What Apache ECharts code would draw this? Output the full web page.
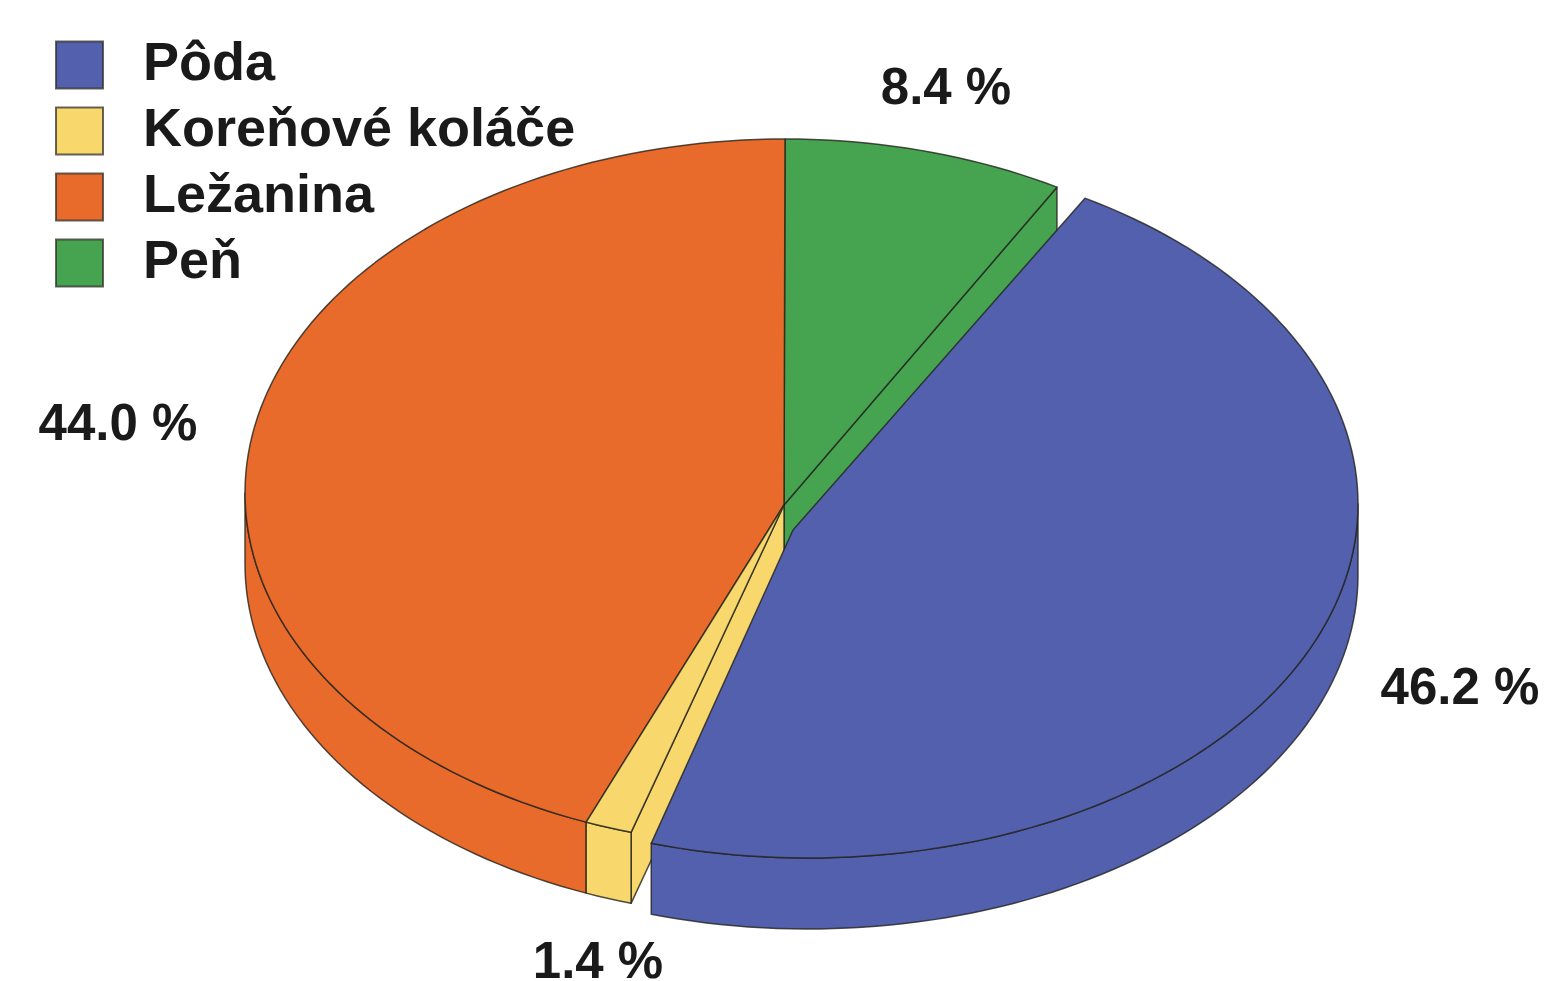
<!doctype html>
<html lang="sk">
<head>
    <meta charset="UTF-8">
    <title>Pôda, koreňové koláče, ležanina, peň</title>
    <style>
        html, body { margin: 0; padding: 0; background: #fff; }
        #main { width: 1544px; height: 981px; }
    </style>
</head>
<body>
<div id="main"></div>
<script src="https://cdn.jsdelivr.net/npm/echarts@6/dist/echarts.min.js"></script>
<script>
    // data, legend order
    const categories = ['Pôda', 'Koreňové koláče', 'Ležanina', 'Peň'];
    const shares = [46.2, 1.4, 44.0, 8.4];
    const colors = ['#5360ad', '#f8d86c', '#e96b2b', '#46a350'];

    // tilted disc geometry
    const disc = {cx: 785, cy: 493, rx: 540, ry: 354, apexX: 784, apexY: 505};
    // Pôda is pulled out and looks a little bigger, it sits nearer the viewer
    const pulled = {0: {cx: 808, cy: 504, rx: 550, ry: 354, apexX: 793, apexY: 530}};
    const depth = 71;
    const startDeg = 0;
    const labelPos = [[1460, 690], [598, 964], [118, 426], [946, 90]];
    const edge = 'rgba(35,35,30,0.8)';

    // Peň sits first clockwise from the top, the others follow in legend order
    const starts = [];
    let acc = shares[shares.length - 1];
    shares.forEach(function (v) {
        starts.push(acc % 100);
        acc += v;
    });

    function pt(g, deg, drop) {
        const a = deg * Math.PI / 180;
        return [g.cx + g.rx * Math.sin(a), g.cy - g.ry * Math.cos(a) + drop];
    }

    function arc(g, from, to, drop) {
        const pts = [];
        const n = Math.max(2, Math.ceil(Math.abs(to - from) / 1.5));
        for (let i = 0; i <= n; i++) {
            pts.push(pt(g, from + (to - from) * i / n, drop));
        }
        return pts;
    }

    function poly(points, fill) {
        return {
            type: 'polygon',
            shape: {points: points},
            style: {fill: fill, stroke: edge, lineWidth: 1.5, lineJoin: 'round'},
            silent: true
        };
    }

    function radialWall(g, deg, fill) {
        const p = pt(g, deg, 0);
        return poly([[g.apexX, g.apexY], p, [p[0], p[1] + depth], [g.apexX, g.apexY + depth]], fill);
    }

    function sliceItem(idx) {
        return function (params, api) {
            const value = api.value(0);
            const from = startDeg + api.value(1) * 3.6;
            const to = from + value * 3.6;
            const g = pulled[idx] || disc;
            const n = categories.length;
            const kids = [];

            // radial wall only where the pulled out neighbour uncovers it
            if (pulled[(idx + 1) % n]) {
                kids.push(radialWall(g, to, colors[idx]));
            }
            if (pulled[(idx + n - 1) % n]) {
                kids.push(radialWall(g, from, colors[idx]));
            }

            // outer wall, front half of the ellipse only
            const a0 = Math.max(from, 90), a1 = Math.min(to, 270);
            if (a1 > a0) {
                kids.push(poly(arc(g, a0, a1, 0).concat(arc(g, a1, a0, depth)), colors[idx]));
            }

            // top face
            kids.push(poly([[g.apexX, g.apexY]].concat(arc(g, from, to, 0)), colors[idx]));

            kids.push({
                type: 'text',
                silent: true,
                style: {
                    x: labelPos[idx][0],
                    y: labelPos[idx][1],
                    text: value.toFixed(1) + ' %',
                    fill: '#1a1a1a',
                    font: 'bold 51px "Liberation Sans", Arial, sans-serif',
                    align: 'center',
                    verticalAlign: 'middle'
                }
            });
            return {type: 'group', children: kids};
        };
    }

    // paint back to front: Peň, Ležanina, Koreňové koláče, Pôda
    const drawOrder = [3, 2, 1, 0];
    const series = drawOrder.map(function (i) {
        return {
            name: categories[i],
            type: 'custom',
            coordinateSystem: 'none',
            renderItem: sliceItem(i),
            itemStyle: {color: colors[i], borderColor: 'rgba(50,50,40,0.75)', borderWidth: 2},
            data: [[shares[i], starts[i]]],
            animation: false,
            silent: true
        };
    });

    const myChart = echarts.init(document.getElementById('main'));
    const option = {
        backgroundColor: '#fff',
        animation: false,
        legend: {
            data: categories,
            orient: 'vertical',
            left: 50,
            top: 33,
            icon: 'rect',
            itemWidth: 47,
            itemHeight: 47,
            itemGap: 12,
            selectedMode: false,
            textStyle: {
                color: '#1a1a1a',
                fontFamily: '"Liberation Sans", Arial, sans-serif',
                fontSize: 54,
                fontWeight: 'bold',
                lineHeight: 47,
                padding: [0, 0, 0, 35]
            }
        },
        series: series
    };
    myChart.setOption(option);
</script>
</body>
</html>
